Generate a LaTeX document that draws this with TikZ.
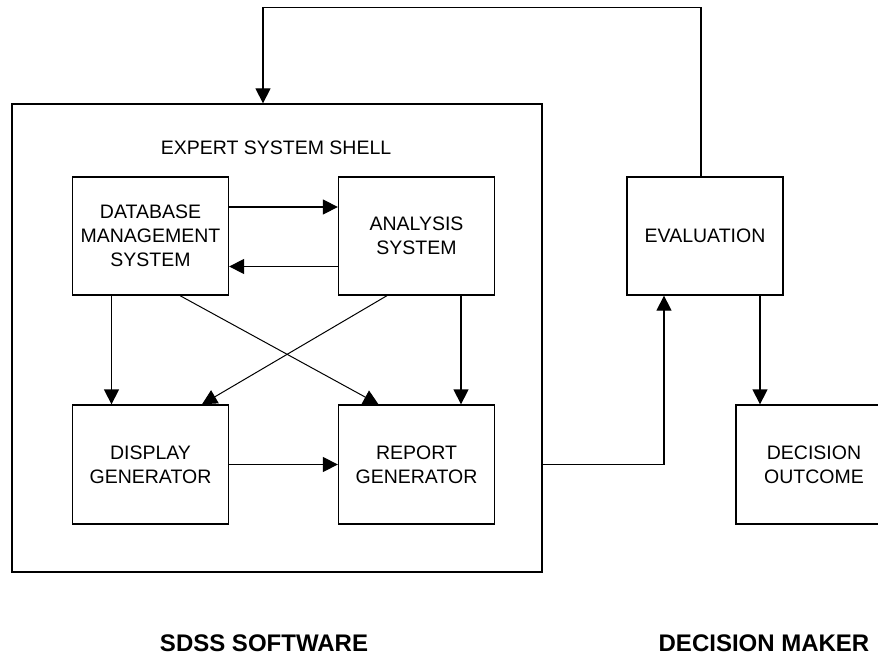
\documentclass[tikz,border=0pt]{standalone}
\usepackage{fontspec}
\setmainfont{Liberation Sans}
\usetikzlibrary{arrows.meta}
\begin{document}
\begin{tikzpicture}[x=1pt,y=-1pt,
  line width=1.3pt,
  arr/.style={-{Triangle[length=15pt,width=15pt]}},
  blk/.style={draw,minimum width=156pt,minimum height=118pt,inner sep=0pt,align=center,
    font=\fontsize{19.5}{24}\selectfont},
  lbl/.style={inner sep=0pt,font=\fontsize{19.5}{24}\selectfont},
  big/.style={inner sep=0pt,font=\fontsize{24}{28}\selectfont\bfseries}]
\useasboundingbox (0,0) rectangle (878,655);
\node[draw,minimum width=530pt,minimum height=468pt,inner sep=0pt] (outer) at (277,338) {};
\node[lbl] (shell) at (276,148) {EXPERT SYSTEM SHELL};
\node[blk] (dbms) at (150.5,236) {DATABASE\\MANAGEMENT\\SYSTEM};
\node[blk] (ana) at (416.5,236) {ANALYSIS\\SYSTEM};
\node[blk,minimum height=119pt] (disp) at (150.5,464.5) {DISPLAY\\GENERATOR};
\node[blk,minimum height=119pt] (rep) at (416.5,464.5) {REPORT\\GENERATOR};
\node[blk] (eval) at (705,236) {EVALUATION};
\node[blk,minimum height=119pt] (dec) at (814,464.5) {DECISION\\OUTCOME};
\node[big] (sdss) at (264,643) {SDSS SOFTWARE};
\node[big] (dm) at (764,643) {DECISION MAKER};
\coordinate (top) at (0,7.5);
% inner connectors
\draw[arr] ([yshift=29pt]dbms.east) -- ([yshift=29pt]dbms.east -| ana.west);
\draw[arr] ([yshift=-30.5pt]ana.west) -- ([yshift=-30.5pt]ana.west -| dbms.east);
\draw[arr] ([xshift=-39pt]dbms.south) -- ([xshift=-39pt]disp.north);
\draw[arr] ([xshift=44.5pt]ana.south) -- ([xshift=44.5pt]rep.north);
\draw[arr, line width=1pt] ([xshift=29.5pt]dbms.south) -- ([xshift=-38pt]rep.north);
\draw[arr, line width=1pt] ([xshift=-29.5pt]ana.south) -- ([xshift=51.5pt]disp.north);
\draw[arr] (disp.east) -- (rep.west);
% outer connectors
\draw[arr] (outer.east |- rep.west) -| ([xshift=-41pt]eval.south);
\draw[arr] ([xshift=55pt]eval.south) -- ([xshift=55pt]eval.south |- dec.north);
\draw[arr] ([xshift=-4pt]eval.north) -- ([xshift=-4pt]eval.north |- top) -| ([xshift=-14pt]outer.north);
\end{tikzpicture}
\end{document}
